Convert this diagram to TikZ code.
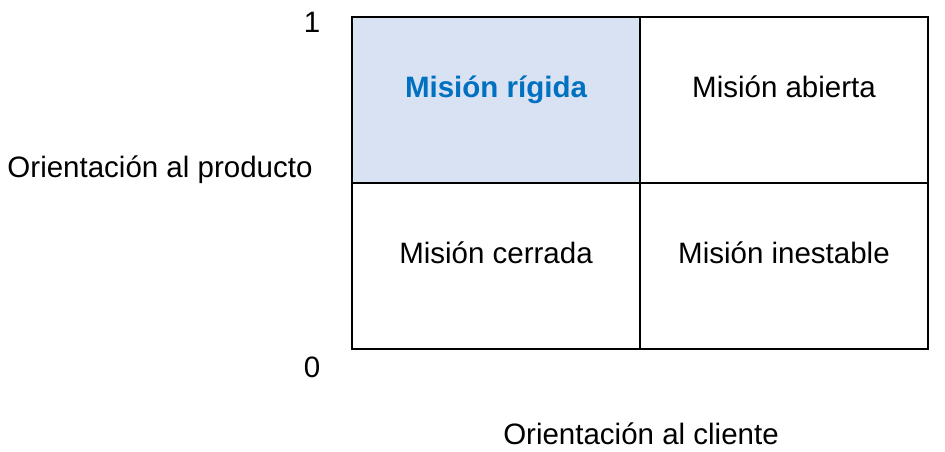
\documentclass[tikz,border=0pt]{standalone}
\usepackage{fontspec}
\setmainfont{Liberation Sans}
\definecolor{cellblue}{HTML}{D9E2F3}
\definecolor{textblue}{HTML}{0070C0}
\begin{document}
\begin{tikzpicture}[x=1pt,y=-1pt,
  lbl/.style={font=\fontsize{29.5}{34}\selectfont, inner sep=0pt, anchor=base},
  cell/.style={draw=black, line width=1.5pt, minimum width=288pt, minimum height=166pt, inner sep=0pt}]
\useasboundingbox (0,0) rectangle (945,452);
\node[cell, fill=cellblue] (c11) at (496,100) {};
\node[cell] (c12) at (784,100) {};
\node[cell] (c21) at (496,266) {};
\node[cell] (c22) at (784,266) {};
\node[lbl, text=textblue, font=\fontsize{29.5}{34}\bfseries\selectfont] (t11) at (496,97) {Misión rígida};
\node[lbl] (t12) at (784,97) {Misión abierta};
\node[lbl] (t21) at (496,263) {Misión cerrada};
\node[lbl] (t22) at (784,263) {Misión inestable};
\node[lbl] (yl) at (160,177) {Orientación al producto};
\node[lbl] (xl) at (641,444) {Orientación al cliente};
\node[lbl] (one) at (312,33) {1};
\node[lbl] (zero) at (312,377) {0};
\node[lbl] (onex) at (951,377) {1};
\end{tikzpicture}
\end{document}
